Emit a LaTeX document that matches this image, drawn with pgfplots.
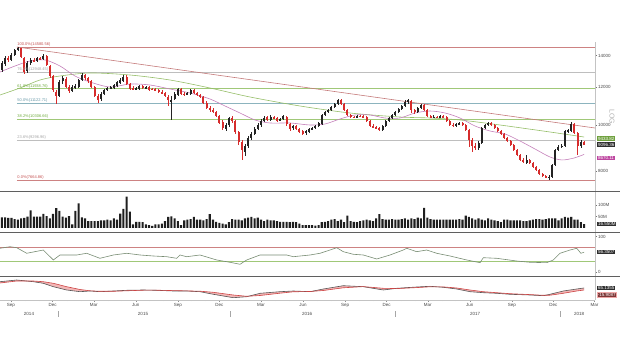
\documentclass[border=0pt]{standalone}
\usepackage{pgfplots}
\pgfplotsset{compat=1.18}
\usepackage{pgfplotstable}
\usepackage{fontspec}
\setmainfont{Liberation Sans}

\definecolor{upc}{RGB}{35,35,35}
\definecolor{dnc}{RGB}{214,44,44}
\definecolor{trendc}{RGB}{196,122,122}
\definecolor{greenmac}{RGB}{150,190,105}
\definecolor{pinkmac}{RGB}{196,128,186}
\definecolor{fibred}{RGB}{205,130,130}
\definecolor{fibredt}{RGB}{195,80,80}
\definecolor{fibgrey}{RGB}{190,190,190}
\definecolor{fibgreyt}{RGB}{165,165,165}
\definecolor{fibgreen}{RGB}{160,200,120}
\definecolor{fibgreent}{RGB}{110,170,60}
\definecolor{fibteal}{RGB}{140,180,190}
\definecolor{fibtealt}{RGB}{100,150,165}
\definecolor{rsic}{RGB}{120,140,115}
\definecolor{macdc}{RGB}{85,85,85}
\definecolor{sigc}{RGB}{205,70,70}
\definecolor{macdfill}{RGB}{240,165,165}
\definecolor{sigbox}{RGB}{125,55,55}
\definecolor{sepc}{RGB}{95,95,95}
\definecolor{axc}{RGB}{195,195,195}
\definecolor{tickt}{RGB}{70,70,70}
\definecolor{magbox}{RGB}{190,70,160}
\definecolor{greenbox}{RGB}{110,160,60}

\pgfplotstableread{
d o h l c v
-20 13059 13642 12933 13511 46
-13 13445 13977 13315 13843 46
-6 13843 13977 13576 13709 44
1 13709 14183 13642 14045 44
8 14045 14460 13977 14391 39
15 14391 14580 14321 14531 36
22 14531 14560 13843 13910 42
29 13843 13910 12808 12933 44
36 12996 13642 12871 13511 49
43 13511 13843 13380 13709 77
50 13709 13843 13576 13642 49
57 13642 13910 13576 13843 49
64 13843 13910 13709 13776 49
71 13776 14114 13709 13977 61
78 13977 14045 13315 13380 52
85 13315 13380 12562 12684 42
92 12684 12746 11737 11851 61
99 11737 11851 11073 11511 86
106 11511 12440 11456 12320 74
113 12380 12684 12201 12562 49
120 12501 12623 11967 12025 45
127 12025 12142 11680 11794 52
134 11794 12142 11737 12025 16
141 11967 12201 11909 12083 74
148 12025 12501 11967 12440 107
155 12440 12871 12380 12746 46
162 12746 12808 12440 12562 42
169 12562 12623 12261 12380 30
176 12380 12440 11967 12025 30
183 12025 12083 11456 11511 30
190 11511 11624 11127 11290 30
197 11345 11737 11235 11624 33
204 11624 11909 11567 11851 33
211 11851 12025 11794 11967 36
218 11967 12083 11909 12025 33
225 11967 12201 11909 12142 42
232 12083 12380 12025 12320 36
239 12261 12562 12201 12440 62
246 12380 12746 12320 12623 83
253 12623 12746 12142 12201 136
260 12201 12261 11851 11909 71
267 11967 12083 11851 11909 16
274 11909 12025 11851 11967 27
281 11909 12142 11851 12083 27
288 12083 12142 11909 11967 25
295 11967 12083 11909 12025 16
302 12025 12083 11794 11851 13
309 11909 11967 11851 11880 9
316 11909 11967 11794 11851 16
323 11851 11909 11680 11737 16
330 11737 11851 11624 11680 19
337 11680 11737 11456 11511 30
344 11456 11567 10966 11290 48
351 11235 11511 10246 11290 51
358 11345 11737 11290 11624 42
365 11567 11967 11511 11909 30
372 11909 11967 11567 11624 13
379 11624 11737 11511 11596 33
386 11624 11737 11567 11680 36
393 11624 11909 11567 11851 39
400 11851 11909 11624 11680 48
407 11680 11737 11511 11567 36
414 11567 11624 11400 11456 36
421 11456 11511 11073 11127 33
428 11127 11235 10808 10860 39
435 10860 10966 10651 10755 60
442 10755 10860 10600 10651 36
449 10651 10703 10396 10446 27
456 10446 10497 10049 10098 22
463 10147 10246 9760 9855 19
470 9808 10098 9713 10000 16
477 10000 10396 9903 10346 25
484 10346 10446 10098 10196 39
491 10196 10246 9573 9666 36
498 9666 9713 9075 9208 36
505 9208 9298 8438 8858 33
512 8772 9119 8604 9031 42
519 9031 9480 8944 9389 45
526 9389 9666 9298 9573 48
533 9573 9903 9526 9808 42
540 9808 10098 9760 10000 45
547 10000 10296 9903 10196 36
554 10196 10446 10147 10346 30
561 10396 10446 10196 10246 36
568 10246 10497 10196 10396 33
575 10396 10446 10296 10346 33
582 10346 10396 10147 10196 30
589 10246 10346 10196 10296 27
596 10296 10497 10246 10446 27
603 10396 10446 9952 10049 27
610 10049 10098 9713 9808 25
617 9855 10000 9760 9952 27
624 9952 10000 9760 9808 25
631 9808 9855 9619 9666 19
638 9713 9760 9526 9573 13
645 9619 9760 9526 9713 13
652 9666 9855 9619 9808 13
659 9808 9903 9760 9855 13
666 9855 10000 9808 9952 10
673 9952 10147 9903 10098 13
680 10049 10548 10000 10497 25
687 10497 10703 10446 10651 27
694 10651 10808 10600 10755 30
701 10755 10966 10703 10913 36
708 10913 11127 10860 11073 39
715 11073 11345 11019 11290 30
722 11290 11345 11019 11073 36
729 11073 11127 10703 10755 25
736 10755 10808 10446 10497 54
743 10497 10548 10346 10396 30
750 10396 10446 10346 10371 27
757 10396 10497 10346 10446 25
764 10446 10497 10396 10421 30
771 10446 10497 10346 10396 33
778 10396 10446 10147 10196 36
785 10196 10246 9903 9952 33
792 9952 10049 9855 9903 30
799 9903 9952 9808 9855 42
806 9855 9903 9713 9760 60
813 9760 10000 9713 9952 39
820 9952 10246 9903 10196 36
827 10196 10396 10147 10346 36
834 10346 10548 10296 10497 39
841 10497 10703 10446 10651 36
848 10651 10860 10600 10808 36
855 10808 11019 10755 10966 39
862 10966 11290 10913 11181 42
869 11181 11345 11073 11290 36
876 11235 11290 10600 10755 42
883 10755 10808 10548 10651 39
890 10651 10913 10600 10860 45
897 10860 11073 10808 11019 42
904 11019 11073 10703 10755 88
911 10755 10808 10396 10446 45
918 10446 10497 10346 10396 39
925 10396 10497 10346 10421 36
932 10396 10446 10346 10371 36
939 10371 10497 10346 10446 36
946 10446 10497 10346 10396 36
953 10396 10446 10147 10196 36
960 10196 10246 9952 10000 36
967 10000 10098 9903 9952 36
974 9952 10098 9903 10049 36
981 10049 10147 10000 10098 39
988 10098 10147 9952 10000 36
995 10000 10049 9713 9760 54
1002 9760 9808 8988 9298 48
1009 9298 9389 8772 9031 42
1016 9031 9164 8858 8944 36
1023 8944 9253 8858 9164 42
1030 9164 9903 9119 9855 36
1037 9855 10049 9808 10000 33
1044 10000 10147 9952 10098 42
1051 10098 10147 9952 10000 36
1058 10000 10049 9808 9855 33
1065 9855 9903 9666 9713 30
1072 9713 9760 9526 9573 25
1079 9573 9619 9343 9389 36
1086 9389 9434 9208 9253 36
1093 9253 9298 9031 9075 33
1100 9075 9119 8815 8858 33
1107 8858 8901 8604 8645 33
1114 8645 8688 8397 8438 33
1121 8438 8521 8316 8357 30
1128 8316 8645 8276 8438 30
1135 8438 8479 8276 8316 33
1142 8316 8357 8117 8156 36
1149 8156 8196 8000 8039 39
1156 8039 8077 7846 7884 39
1163 7884 7922 7770 7808 36
1170 7808 7846 7733 7770 39
1177 7770 7846 7665 7789 42
1184 7770 8276 7733 8236 42
1191 8236 8901 8196 8858 42
1198 8858 9075 8815 8988 33
1205 8988 9119 8944 9031 42
1212 9031 9760 8988 9713 48
1219 9713 9808 9619 9760 45
1226 9713 10147 9666 10049 48
1233 10049 10098 9573 9619 36
1240 9619 9666 8645 9031 36
1247 9031 9298 8944 9208 25
1254 9208 9253 9075 9096.36 16.55
}\candles

\pgfplotstableread{
d a b c e f g z
13 14580.56 12948.45 11938.76 11122.71 10306.66 9296.96 7664.86
1278 14580.56 12948.45 11938.76 11122.71 10306.66 9296.96 7664.86
}\fib

\pgfplotstableread{
d p
13 14602
1278 9855
}\ttrend

\pgfplotstableread{
d p
-24.1 11567
19.7 11967
63.5 12440
107.2 12684
172.9 12871
260.4 12746
347.9 12440
435.4 11967
523.0 11456
632.4 10966
741.8 10600
851.2 10396
916.8 10346
982.5 10246
1070.0 10000
1179.4 9666
1254 9434
}\tgreen

\pgfplotstableread{
d p
-24.1 12933
8.8 13315
41.6 13642
74.4 13709
107.2 13315
140.0 12684
172.9 12320
216.6 12025
260.4 12201
304.2 12142
347.9 11909
391.7 11680
435.4 11345
468.3 10966
501.1 10600
533.9 10246
566.7 10098
610.5 10098
654.3 10000
687.0 10049
719.9 10296
752.7 10497
785.6 10497
818.4 10346
851.2 10346
884.0 10600
916.8 10703
949.7 10600
982.5 10346
1015.3 9952
1048.1 9713
1081.0 9573
1113.8 9253
1146.6 8901
1179.4 8562
1205.7 8440
1232.0 8520
1254 8670.11
}\tpink

\pgfplotstableread{
d r
-24.1 67.4
-2.2 71.9
12.5 69.1
34.4 53.4
70.7 62.6
92.6 34.6
107.2 48.6
143.8 48.6
165.6 53.4
194.7 39.3
223.9 48.6
253.2 53.4
282.3 48.6
311.4 45.8
340.7 43.8
362.6 39.3
369.8 48.6
384.5 43.8
413.6 48.6
450.1 34.6
479.2 28.1
501.1 22.5
515.8 34.6
544.9 48.6
574.0 48.6
603.3 48.6
617.7 43.8
654.3 48.6
676.1 53.4
698.0 62.6
712.7 69.1
727.1 57.9
749.0 50.6
770.9 48.6
800.2 37.4
829.3 48.6
858.4 62.6
865.9 67.4
887.7 57.9
909.6 62.6
931.5 53.4
960.6 45.8
997.2 34.6
1026.3 27.0
1033.5 41.0
1062.8 39.3
1106.6 31.7
1135.7 28.1
1172.2 27.0
1186.7 34.6
1201.3 53.4
1223.2 62.6
1237.9 67.4
1247.0 53.4
1254.0 56.35
}\trsi

\pgfplotstableread{
d m s
-24.1 316 264
12.5 384 344
48.8 316 344
70.7 252 316
92.6 116 252
121.9 -16 116
151.0 -84 4
172.9 -56 -48
194.7 -84 -68
223.9 -56 -68
253.2 -28 -48
289.5 -16 -24
318.8 -28 -24
355.1 -56 -40
384.5 -56 -52
413.6 -84 -64
442.7 -188 -108
486.4 -324 -216
515.8 -284 -268
544.9 -148 -236
588.6 -84 -144
617.7 -56 -88
654.3 -84 -76
683.4 24 -36
727.1 156 72
770.9 116 120
814.7 -16 52
844.0 52 40
887.7 104 80
916.8 132 112
946.0 92 108
975.3 24 64
1004.4 -84 -16
1033.5 -124 -84
1062.8 -148 -124
1091.9 -188 -164
1135.7 -216 -200
1164.8 -244 -228
1179.4 -188 -224
1208.5 -56 -148
1237.9 24 -56
1254 65.14 -16
}\tmacd

% band between MACD (forward) and signal (backward)
\pgfplotstableread{
d y
-24.1 316
12.5 384
48.8 316
70.7 252
92.6 116
121.9 -16
151.0 -84
172.9 -56
194.7 -84
223.9 -56
253.2 -28
289.5 -16
318.8 -28
355.1 -56
384.5 -56
413.6 -84
442.7 -188
486.4 -324
515.8 -284
544.9 -148
588.6 -84
617.7 -56
654.3 -84
683.4 24
727.1 156
770.9 116
814.7 -16
844.0 52
887.7 104
916.8 132
946.0 92
975.3 24
1004.4 -84
1033.5 -124
1062.8 -148
1091.9 -188
1135.7 -216
1164.8 -244
1179.4 -188
1208.5 -56
1237.9 24
1254 65.14
1254 -16
1237.9 -56
1208.5 -148
1179.4 -224
1164.8 -228
1135.7 -200
1091.9 -164
1062.8 -124
1033.5 -84
1004.4 -16
975.3 64
946.0 108
916.8 112
887.7 80
844.0 40
814.7 52
770.9 120
727.1 72
683.4 -36
654.3 -76
617.7 -88
588.6 -144
544.9 -236
515.8 -268
486.4 -216
442.7 -108
413.6 -64
384.5 -52
355.1 -40
318.8 -24
289.5 -24
253.2 -48
223.9 -68
194.7 -68
172.9 -48
151.0 4
121.9 116
92.6 252
70.7 316
48.8 344
12.5 344
-24.1 264
}\tband

\tikzset{
 lbl/.style={anchor=west, inner sep=0.8pt, fill=black!82, text=white, font=\fontsize{4.5}{5.2}\selectfont},
 fibl/.style={anchor=south west, inner sep=0.3pt, font=\fontsize{4}{4.5}\selectfont},
}
\pgfplotsset{
 panel/.style={scale only axis, width=595pt, xmin=-24.07, xmax=1277.9,
   anchor=south west, axis x line=none, axis y line*=right,
   y axis line style={draw=axc, line width=0.5pt},
   tick align=outside, major tick length=2pt,
   ytick style={draw=black!55, line width=0.4pt},
   yticklabel style={font=\fontsize{4.5}{5.2}\selectfont, text=tickt, inner sep=1pt},
   clip mode=individual},
 candle/.style n args={2}{draw=none, mark=none, forget plot,
   error bars/.cd, y dir=both, y explicit, error mark=none,
   error bar style={solid, draw=#1, line width=#2}},
}

\begin{document}
\begin{tikzpicture}[font=\fontsize{4.5}{5.2}\selectfont]
\useasboundingbox (0,0) rectangle (620pt,355pt);
% ---------------- main price panel ----------------
\begin{axis}[panel, at={(0pt,163.5pt)}, height=149.5pt, ymin=8.88763, ymax=9.61311,
  ytick={8.987197,9.210340,9.392662,9.546812}, yticklabels={8000,10000,12000,14000}]
\addplot[fibred, line width=0.5pt] table[x=d, y expr=ln(\thisrow{a})] {\fib};
\addplot[fibgrey, line width=0.5pt] table[x=d, y expr=ln(\thisrow{b})] {\fib};
\addplot[fibgreen, line width=0.5pt] table[x=d, y expr=ln(\thisrow{c})] {\fib};
\addplot[fibteal, line width=0.5pt] table[x=d, y expr=ln(\thisrow{e})] {\fib};
\addplot[fibgreen, line width=0.5pt] table[x=d, y expr=ln(\thisrow{f})] {\fib};
\addplot[fibgrey, line width=0.5pt] table[x=d, y expr=ln(\thisrow{g})] {\fib};
\addplot[fibred, line width=0.5pt] table[x=d, y expr=ln(\thisrow{z})] {\fib};
\addplot[trendc, line width=0.6pt] table[x=d, y expr=ln(\thisrow{p})] {\ttrend};
\addplot[greenmac, line width=0.6pt, smooth] table[x=d, y expr=ln(\thisrow{p})] {\tgreen};
\addplot[pinkmac, line width=0.6pt, smooth] table[x=d, y expr=ln(\thisrow{p})] {\tpink};
% wicks
\addplot[restrict expr to domain={\thisrow{c}-\thisrow{o}}{0:100000}, candle={upc}{0.5pt}]
  table[x=d, y expr={(ln(\thisrow{h})+ln(\thisrow{l}))/2}, y error expr={(ln(\thisrow{h})-ln(\thisrow{l}))/2}] {\candles};
\addplot[restrict expr to domain={\thisrow{c}-\thisrow{o}}{-100000:-0.001}, candle={dnc}{0.5pt}]
  table[x=d, y expr={(ln(\thisrow{h})+ln(\thisrow{l}))/2}, y error expr={(ln(\thisrow{h})-ln(\thisrow{l}))/2}] {\candles};
% bodies
\addplot[restrict expr to domain={\thisrow{c}-\thisrow{o}}{0:100000}, candle={upc}{2pt}]
  table[x=d, y expr={(ln(\thisrow{o})+ln(\thisrow{c}))/2}, y error expr={abs(ln(\thisrow{c})-ln(\thisrow{o}))/2}] {\candles};
\addplot[restrict expr to domain={\thisrow{c}-\thisrow{o}}{-100000:-0.001}, candle={dnc}{2pt}]
  table[x=d, y expr={(ln(\thisrow{o})+ln(\thisrow{c}))/2}, y error expr={abs(ln(\thisrow{c})-ln(\thisrow{o}))/2}] {\candles};
\node[fibl, text=fibredt] at (axis cs:13,9.58744) {100.0\%(14580.56)};
\node[fibl, text=fibgreyt] at (axis cs:13,9.46873) {76.4\%(12948.45)};
\node[fibl, text=fibgreent] at (axis cs:13,9.38755) {61.8\%(11938.76)};
\node[fibl, text=fibtealt] at (axis cs:13,9.31674) {50.0\%(11122.71)};
\node[fibl, text=fibgreent] at (axis cs:13,9.24055) {38.2\%(10306.66)};
\node[fibl, text=fibgreyt] at (axis cs:13,9.13744) {23.6\%(9296.96)};
\node[fibl, text=fibredt] at (axis cs:13,8.94440) {0.0\%(7664.86)};
\end{axis}
% ---------------- volume ----------------
\begin{axis}[panel, at={(0pt,123pt)}, height=40.5pt, ymin=-17.4, ymax=158.8,
  ytick={50,100}, yticklabels={50M,100M}]
\addplot[ybar, bar width=2.1pt, fill=black!88, draw=none] table[x=d, y=v] {\candles};
\end{axis}
% ---------------- RSI ----------------
\begin{axis}[panel, at={(0pt,79pt)}, height=44pt, ymin=-10.39, ymax=113.2,
  ytick={0,100}, yticklabels={0,100}]
\addplot[fibred, line width=0.5pt] coordinates {(-24.07,70) (1277.9,70)};
\addplot[fibgreen, line width=0.5pt] coordinates {(-24.07,30) (1277.9,30)};
\addplot[rsic, line width=0.6pt] table[x=d, y=r] {\trsi};
\end{axis}
% ---------------- MACD ----------------
\begin{axis}[scale only axis, width=595pt, height=24pt, at={(0pt,55pt)}, anchor=south west,
  xmin=-24.07, xmax=1277.9, ymin=-416, ymax=544,
  axis x line*=bottom, axis y line*=right, ytick=\empty,
  x axis line style={draw=axc, line width=0.5pt}, y axis line style={draw=axc, line width=0.5pt},
  tick align=outside, major tick length=2pt, minor tick length=1.2pt,
  xtick={0,91,181,273,365,456,547,639,731,822,912,1004,1096,1187,1277},
  xticklabels={Sep,Dec,Mar,Jun,Sep,Dec,Mar,Jun,Sep,Dec,Mar,Jun,Sep,Dec,Mar},
  minor xtick={30,61,122,153,212,242,303,334,395,426,487,518,578,608,669,700,761,792,853,884,943,973,1034,1065,1126,1157,1218,1249},
  xtick style={draw=black!45, line width=0.4pt},
  xticklabel style={font=\fontsize{4.5}{5.2}\selectfont, text=tickt, inner sep=1pt}]
\addplot[fill=macdfill, draw=none, fill opacity=0.8] table[x=d, y=y] {\tband};
\addplot[macdc, line width=0.6pt] table[x=d, y=m] {\tmacd};
\addplot[sigc, line width=0.6pt] table[x=d, y=s] {\tmacd};
\end{axis}
% separators
\draw[sepc, line width=0.9pt] (0pt,163.5pt) -- (620pt,163.5pt);
\draw[sepc, line width=0.9pt] (0pt,123pt) -- (620pt,123pt);
\draw[sepc, line width=0.9pt] (0pt,79pt) -- (620pt,79pt);
% value boxes
\node[lbl, fill=greenbox] at (597pt,216.5pt) {9433.82};
\node[lbl] at (597pt,210.5pt) {9096.36};
\node[lbl, fill=magbox] at (597pt,197pt) {8670.11};
\node[lbl] at (597pt,131pt) {16.550M};
\node[lbl] at (597pt,103pt) {56.3507};
\node[lbl] at (597pt,67pt) {65.1355};
\node[lbl, fill=sigbox, draw=macdfill, line width=0.3pt] at (597pt,60.5pt) {-15.9087};
\node[rotate=-90, text=black!30, font=\fontsize{7}{8}\selectfont] at (612pt,238pt) {LOG};
% years
\node[text=tickt] at (29pt,41pt) {2014};
\node[text=tickt] at (143pt,41pt) {2015};
\node[text=tickt] at (307pt,41pt) {2016};
\node[text=tickt] at (475pt,41pt) {2017};
\node[text=tickt] at (579pt,41pt) {2018};
\foreach \xx in {58.5,230,395,560} {\draw[black!35, line width=0.4pt] (\xx pt,38pt) -- (\xx pt,44pt);}
\end{tikzpicture}
\end{document}
